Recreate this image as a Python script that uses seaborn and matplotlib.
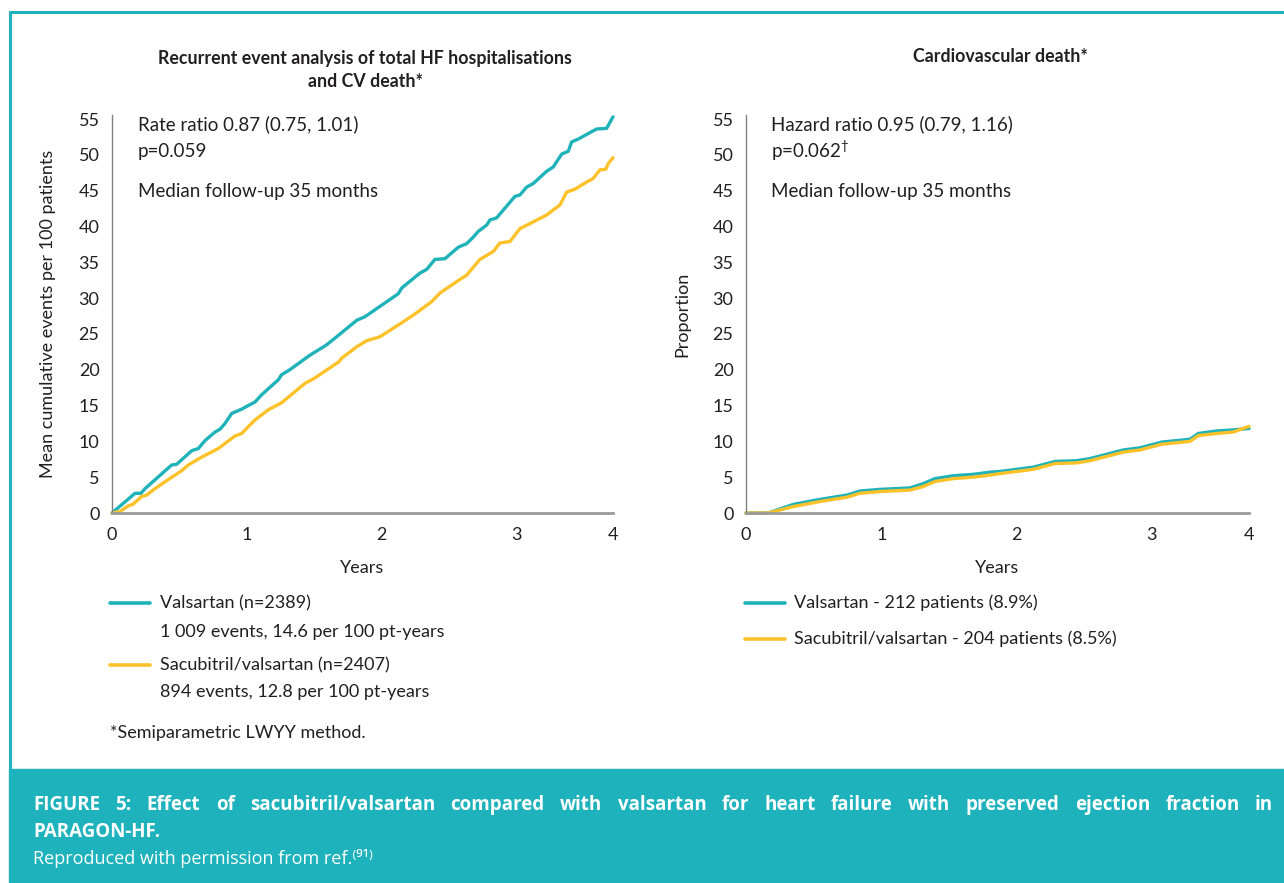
import numpy as np
import pandas as pd
import matplotlib
matplotlib.use("Agg")
import matplotlib.pyplot as plt
from matplotlib.lines import Line2D
from matplotlib.patches import Rectangle
import seaborn as sns

# ---- data -------------------------------------------------------------
# Recurrent events (mean cumulative events per 100 patients)
rec_val_years = [0.0, 0.171, 0.215, 0.245, 0.443, 0.480, 0.592, 0.641, 0.690, 0.765,
                 0.802, 0.839, 0.889, 0.963, 1.062, 1.111, 1.235, 1.259, 1.320, 1.471,
                 1.592, 1.684, 1.817, 1.878, 2.125, 2.151, 2.287, 2.336, 2.398, 2.472,
                 2.571, 2.633, 2.682, 2.719, 2.782, 2.806, 2.856, 2.992, 3.029, 3.079,
                 3.128, 3.227, 3.276, 3.339, 3.388, 3.413, 3.462, 3.549, 3.598, 3.673, 3.72]
rec_val_events = [0.0, 2.75, 2.75, 3.4, 6.7, 6.8, 8.7, 9.0, 10.1, 11.3,
                  11.7, 12.5, 13.9, 14.5, 15.5, 16.5, 18.6, 19.3, 20.0, 22.05,
                  23.45, 24.85, 26.9, 27.4, 30.6, 31.4, 33.5, 34.0, 35.4, 35.5,
                  37.1, 37.6, 38.5, 39.3, 40.2, 40.9, 41.2, 44.2, 44.4, 45.5,
                  46.0, 47.7, 48.3, 50.1, 50.5, 51.8, 52.2, 53.1, 53.6, 53.7, 55.3]

rec_sac_years = [0.0, 0.059, 0.121, 0.158, 0.220, 0.258, 0.319, 0.468, 0.517, 0.566,
                 0.666, 0.789, 0.913, 0.963, 1.062, 1.160, 1.260, 1.433, 1.483, 1.502,
                 1.684, 1.705, 1.817, 1.891, 1.990, 2.064, 2.163, 2.262, 2.373, 2.435,
                 2.559, 2.633, 2.732, 2.831, 2.880, 2.955, 3.029, 3.103, 3.227, 3.326,
                 3.376, 3.437, 3.524, 3.573, 3.623, 3.667, 3.685, 3.72]
rec_sac_events = [0.0, 0.2, 1.0, 1.25, 2.3, 2.5, 3.4, 5.3, 5.9, 6.7,
                  7.8, 9.0, 10.75, 11.1, 13.0, 14.4, 15.4, 18.1, 18.6, 18.8,
                  21.1, 21.6, 23.2, 24.05, 24.6, 25.5, 26.7, 27.96, 29.5, 30.7,
                  32.3, 33.2, 35.4, 36.5, 37.7, 37.9, 39.7, 40.4, 41.6, 43.0,
                  44.8, 45.2, 46.2, 46.7, 47.9, 48.0, 48.8, 49.6]

# Cardiovascular death (cumulative proportion, %)
cvd_years = [0.0, 0.165, 0.350, 0.547, 0.745, 0.843, 0.991, 1.213, 1.311, 1.398,
             1.533, 1.681, 1.805, 1.879, 2.125, 2.286, 2.446, 2.544, 2.668, 2.791,
             2.914, 3.075, 3.284, 3.345, 3.481, 3.604, 3.72]
cvd_val = [0.0, 0.0, 1.2, 1.9, 2.5, 3.07, 3.3, 3.5, 4.1, 4.8,
           5.2, 5.4, 5.7, 5.8, 6.4, 7.2, 7.3, 7.6, 8.2, 8.8,
           9.1, 9.9, 10.3, 11.1, 11.45, 11.6, 11.8]
cvd_sac = [0.0, 0.0, 0.9, 1.6, 2.2, 2.75, 3.0, 3.2, 3.7, 4.4,
           4.8, 5.0, 5.3, 5.5, 6.1, 6.9, 7.0, 7.3, 7.9, 8.5,
           8.8, 9.6, 10.0, 10.8, 11.1, 11.3, 12.1]

arms = ["Valsartan", "Sacubitril/valsartan"]
x_tick_pos = [0, 1, 2, 3, 3.72]
x_tick_labels = ["0", "1", "2", "3", "4"]
y_ticks = list(range(0, 56, 5))

TEAL = "#1fb3b9"
YELLOW = "#fdc22a"
BOX = "#1db2bc"
INK = "#231f20"
CAPTION_FONT = ["Open Sans", "DejaVu Sans"]

# ---- style ------------------------------------------------------------
sns.set_theme(style="white")
plt.rcParams["font.family"] = ["Lato", "DejaVu Sans"]
plt.rcParams["mathtext.fontset"] = "custom"
plt.rcParams["mathtext.rm"] = "Lato"
plt.rcParams["text.color"] = INK

W, H = 1284, 883
fig = plt.figure(figsize=(W / 100, H / 100), dpi=100)
fig.patch.set_facecolor("white")


def px(x, y):
    return x / W, 1 - y / H


rec_df = pd.concat([
    pd.DataFrame({"Years": rec_val_years, "value": rec_val_events, "arm": arms[0]}),
    pd.DataFrame({"Years": rec_sac_years, "value": rec_sac_events, "arm": arms[1]}),
])
cvd_df = pd.concat([
    pd.DataFrame({"Years": cvd_years, "value": cvd_val, "arm": arms[0]}),
    pd.DataFrame({"Years": cvd_years, "value": cvd_sac, "arm": arms[1]}),
])
palette = {arms[0]: TEAL, arms[1]: YELLOW}

axL = fig.add_axes([112 / W, 1 - 513 / H, (613 - 112) / W, (513 - 115) / H])
axR = fig.add_axes([746 / W, 1 - 513 / H, (1249 - 746) / W, (513 - 115) / H])

for ax, df, ylab in [(axL, rec_df, "Mean cumulative events per 100 patients"),
                     (axR, cvd_df, "Proportion")]:
    sns.lineplot(data=df, x="Years", y="value", hue="arm", palette=palette,
                 estimator=None, sort=False, linewidth=2.4, legend=False, ax=ax,
                 clip_on=False)
    ax.set_xlim(0, 3.72)
    ax.set_ylim(0, 55.56)
    ax.set_xticks(x_tick_pos)
    ax.set_xticklabels(x_tick_labels)
    ax.set_yticks(y_ticks)
    ax.tick_params(axis="both", length=0, labelsize=13, colors=INK)
    ax.tick_params(axis="y", pad=9)
    ax.tick_params(axis="x", pad=10)
    ax.set_xlabel("Years", fontsize=13, color=INK, labelpad=12)
    ax.set_ylabel(ylab, fontsize=13, color=INK, labelpad=16)
    for s in ["top", "right"]:
        ax.spines[s].set_visible(False)
    ax.spines["left"].set_color("#808080")
    ax.spines["left"].set_linewidth(1.0)
    ax.spines["bottom"].set_color("#9a9a9a")
    ax.spines["bottom"].set_linewidth(2.0)
    ax.set_facecolor("none")

# titles
fig.text(*px(365, 70), "Recurrent event analysis of total HF hospitalisations\nand CV death*",
         ha="center", va="center", fontsize=12.8, fontweight="bold", linespacing=1.45)
fig.text(*px(1000, 57), "Cardiovascular death*", ha="center", va="center",
         fontsize=12.8, fontweight="bold")

# statistics
fig.text(*px(138, 124), "Rate ratio 0.87 (0.75, 1.01)", va="center", fontsize=13.5)
fig.text(*px(138, 151), "p=0.059", va="center", fontsize=13.5)
fig.text(*px(138, 192), "Median follow-up 35 months", va="center", fontsize=13.5)
fig.text(*px(771, 124), "Hazard ratio 0.95 (0.79, 1.16)", va="center", fontsize=13.5)
fig.text(*px(771, 151), r"p=0.062$^{\dagger}$", va="center", fontsize=13.5)
fig.text(*px(771, 192), "Median follow-up 35 months", va="center", fontsize=13.5)


def legend_line(x0, x1, y, color):
    fig.add_artist(Line2D([x0 / W, x1 / W], [1 - y / H, 1 - y / H],
                          color=color, lw=2.6, transform=fig.transFigure))


# left legend
legend_line(110, 150, 603, TEAL)
fig.text(*px(160, 603), "Valsartan (n=2389)", va="center", fontsize=13)
fig.text(*px(160, 632), "1 009 events, 14.6 per 100 pt-years", va="center", fontsize=13)
legend_line(110, 150, 665, YELLOW)
fig.text(*px(160, 665), "Sacubitril/valsartan (n=2407)", va="center", fontsize=13)
fig.text(*px(160, 692), "894 events, 12.8 per 100 pt-years", va="center", fontsize=13)
fig.text(*px(110, 733), "*Semiparametric LWYY method.", va="center", fontsize=13)

# right legend
legend_line(745, 785, 603, TEAL)
fig.text(*px(794, 603), "Valsartan - 212 patients (8.9%)", va="center", fontsize=13)
legend_line(745, 785, 639, YELLOW)
fig.text(*px(794, 639), "Sacubitril/valsartan - 204 patients (8.5%)", va="center", fontsize=13)

# frame and caption box
fig.add_artist(Line2D([10 / W, 1], [1 - 12 / H, 1 - 12 / H], color=BOX, lw=2.2,
                      transform=fig.transFigure))
fig.add_artist(Line2D([10 / W, 10 / W], [1 - 12 / H, 1 - 769 / H], color=BOX, lw=2.2,
                      transform=fig.transFigure))
fig.add_artist(Rectangle((9 / W, 0), 1 - 9 / W, 1 - 769 / H, color=BOX,
                         transform=fig.transFigure, zorder=0))


def justified_line(text, x0, x1, y, **kw):
    """Spread the words of a caption line evenly between x0 and x1 (pixels)."""
    renderer = fig.canvas.get_renderer()
    words = text.split(" ")
    arts = [fig.text(*px(x0, y), w, va="center", **kw) for w in words]
    widths = [a.get_window_extent(renderer).width for a in arts]
    gap = max((x1 - x0 - sum(widths)) / (len(words) - 1), 3.0)
    x = x0
    for a, w in zip(arts, widths):
        a.set_x(x / W)
        x += w + gap


justified_line("FIGURE 5: Effect of sacubitril/valsartan compared with valsartan for heart "
               "failure with preserved ejection fraction in", 33, 1273, 805,
               fontsize=13.5, fontweight="bold", color="white", family=CAPTION_FONT)
fig.text(*px(33, 832), "PARAGON-HF.", va="center", fontsize=13.5, fontweight="bold",
         color="white", family=CAPTION_FONT)
fig.text(*px(33, 858), "Reproduced with permission from ref.\u207d\u2079\u00b9\u207e",
         va="center", fontsize=13, color="white", family=CAPTION_FONT)

fig.savefig("out.png", dpi=100, facecolor="white")
